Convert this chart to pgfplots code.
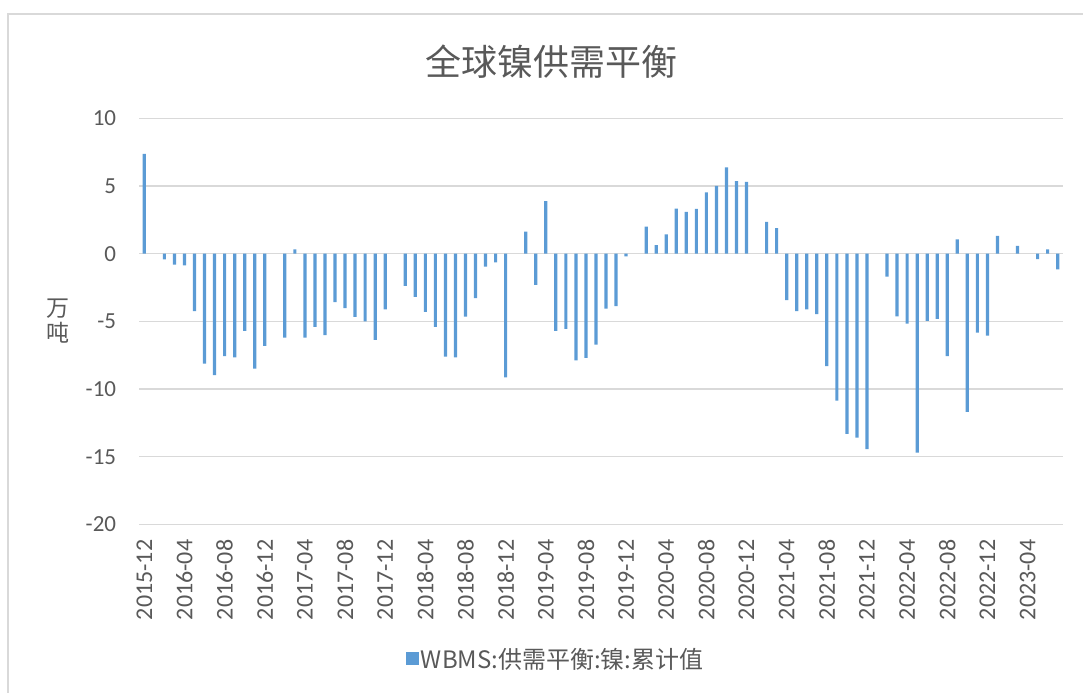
\documentclass[border=0pt]{standalone}
\usepackage{pgfplots}
\pgfplotsset{compat=1.18}
\usepackage{fontspec}
\setmainfont{Carlito}
\newfontfamily\cjk{Noto Sans CJK SC}
\definecolor{barblue}{HTML}{5B9BD5}
\definecolor{txtgrey}{HTML}{595959}
\definecolor{gridgrey}{HTML}{D9D9D9}
\begin{document}
\begin{tikzpicture}
\path[use as bounding box] (0,0) rectangle (1083bp,693bp);
\draw[gridgrey, line width=1.6bp] (8bp,0) -- (8bp,679bp) -- (1083bp,679bp);
\begin{axis}[
 at={(139.3bp,168.5bp)}, anchor=south west,
 scale only axis, width=923.4bp, height=406.2bp,
 xmin=-0.5, xmax=91.5, ymin=-20, ymax=10,
 ytick={-20,-15,...,10},
 xtick={0,4,...,88},
 xticklabels={2015-12,2016-04,2016-08,2016-12,2017-04,2017-08,2017-12,2018-04,2018-08,2018-12,2019-04,2019-08,2019-12,2020-04,2020-08,2020-12,2021-04,2021-08,2021-12,2022-04,2022-08,2022-12,2023-04},
 axis line style={draw=none},
 major tick length=0pt,
 ymajorgrids, grid style={gridgrey, line width=1.3bp},
 tick label style={font=\fontsize{23bp}{23bp}\selectfont, text=txtgrey, inner sep=0pt},
 /pgf/number format/assume math mode=true,
 yticklabel style={anchor=east},
 yticklabel shift=23bp,
 xticklabel style={rotate=90, anchor=east, font=\fontsize{24bp}{24bp}\selectfont},
 xticklabel shift=15bp,
 ybar, bar width=3.2bp, bar shift=0pt,
 legend style={at={(0.451,-0.331)}, anchor=center, draw=none, fill=none, font=\cjk\fontsize{24bp}{24bp}\selectfont, text=txtgrey},
 legend image code/.code={\fill[barblue] (0bp,-6.5bp) rectangle (13bp,6.5bp);},
]
\addplot[fill=barblue, draw=none] coordinates {
(0,7.38) (2,-0.42) (3,-0.81) (4,-0.86) (5,-4.25) (6,-8.12) (7,-8.96) (8,-7.56) (9,-7.65) (10,-5.70) (11,-8.49) (12,-6.81)
(14,-6.20) (15,0.32) (16,-6.20) (17,-5.41) (18,-6.02) (19,-3.58) (20,-4.02) (21,-4.67) (22,-4.99) (23,-6.37) (24,-4.12)
(26,-2.37) (27,-3.19) (28,-4.30) (29,-5.41) (30,-7.60) (31,-7.65) (32,-4.64) (33,-3.28) (34,-0.96) (35,-0.64) (36,-9.14)
(38,1.63) (39,-2.30) (40,3.88) (41,-5.70) (42,-5.56) (43,-7.88) (44,-7.70) (45,-6.72) (46,-4.05) (47,-3.88) (48,-0.20)
(50,2.00) (51,0.64) (52,1.43) (53,3.33) (54,3.09) (55,3.31) (56,4.52) (57,5.01) (58,6.37) (59,5.36) (60,5.31)
(62,2.35) (63,1.88) (64,-3.43) (65,-4.25) (66,-4.12) (67,-4.47) (68,-8.30) (69,-10.86) (70,-13.31) (71,-13.58) (72,-14.44)
(74,-1.70) (75,-4.62) (76,-5.16) (77,-14.69) (78,-4.96) (79,-4.81) (80,-7.56) (81,1.06) (82,-11.68) (83,-5.83) (84,-6.05) (85,1.31)
(87,0.57) (89,-0.40) (90,0.32) (91,-1.16)
};
\legend{WBMS:供需平衡:镍:累计值}
\end{axis}
\node[text=txtgrey, font=\cjk\fontsize{36bp}{36bp}\selectfont] at (551bp,631bp) {全球镍供需平衡};
\node[text=txtgrey, font=\cjk\fontsize{23bp}{25bp}\selectfont, align=center] at (58bp,372bp) {万\\吨};
\end{tikzpicture}
\end{document}
